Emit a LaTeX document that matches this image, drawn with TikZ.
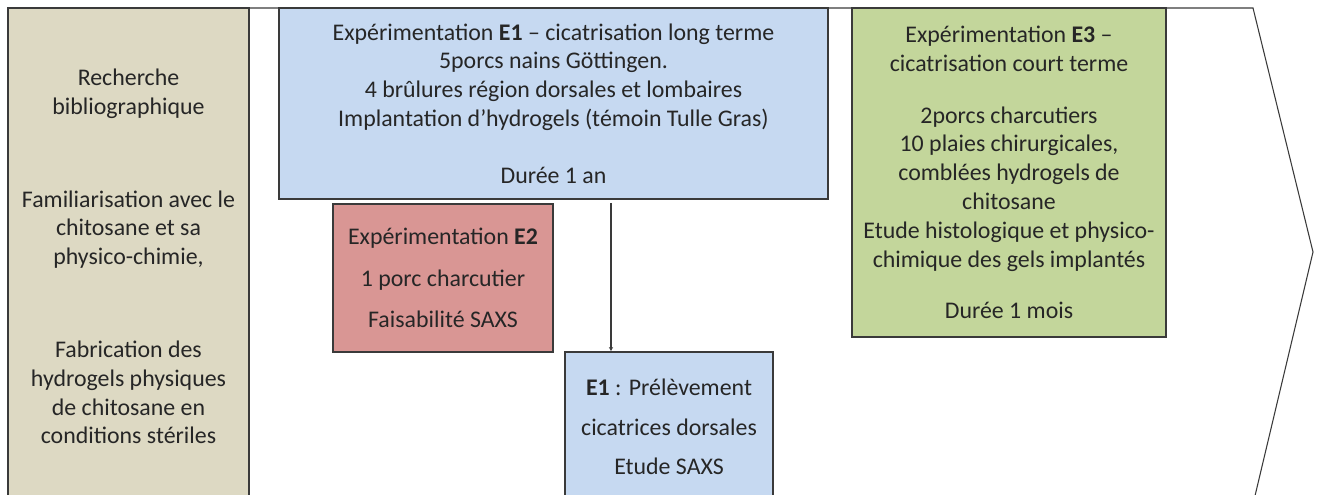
\documentclass[tikz,border=0pt]{standalone}
\usepackage{fontspec}
\setmainfont{Carlito}
\usepackage{xcolor}
\usetikzlibrary{arrows.meta,positioning,calc}
\definecolor{beige}{HTML}{DDD9C3}
\definecolor{ciel}{HTML}{C6D9F1}
\definecolor{rose}{HTML}{D99694}
\definecolor{vert}{HTML}{C3D69B}
\definecolor{trait}{HTML}{3A3A3A}
\tikzset{bx/.style={draw=trait,line width=1.1pt,align=center,inner sep=2pt,text=black!85},
 bib/.style={bx,fill=beige,minimum width=180.75pt,minimum height=372.75pt},
 ea/.style={bx,fill=ciel},
 eb/.style={bx,fill=rose,minimum width=165pt,minimum height=111pt},
 ec/.style={bx,fill=vert,minimum width=235.5pt,minimum height=246.75pt},
 outline/.style={draw=trait,line width=.8pt},
 flow/.style={-{Latex[length=3pt,width=3.5pt]},draw=trait,line width=1.1pt}}

\begin{document}
\begin{tikzpicture}[x=.75pt,y=-.75pt,font=\fontsize{17.9}{21.6}\selectfont]
\useasboundingbox (0,0) rectangle (1317,495);
\draw[outline](8,8)--(1253,8)--(1313,252)--(1254,500);
\node[bib](bib) at (128.5,256.5){Recherche\\bibliographique\\[48pt]
 Familiarisation avec le\\chitosane et sa\\physico-chimie,\\[48pt]
 Fabrication des\\hydrogels physiques\\de chitosane en\\conditions stériles};
\node[ea,minimum width=411.75pt,minimum height=143.25pt](e1) at (553.5,103.5){Expérimentation \textbf{E1} – cicatrisation long terme\\
 5porcs nains Göttingen.\\4 brûlures région dorsales et lombaires\\
 Implantation d’hydrogels (témoin Tulle Gras)\\[21pt]Durée 1 an};
\node[eb](e2) at (443,278){Expérimentation \textbf{E2}\\[9.5pt]1 porc charcutier\\[9.5pt]Faisabilité SAXS};
\node[ea,minimum width=156pt,minimum height=112.5pt](prl) at (669,427){\textbf{E1} : Prélèvement\\[8pt]
 cicatrices dorsales\\[8pt]Etude SAXS};
\node[ec](e3) at (1009,172.5){Expérimentation \textbf{E3} –\\cicatrisation court terme\\[17pt]
 2porcs charcutiers\\10 plaies chirurgicales,\\comblées hydrogels de\\chitosane\\
 Etude histologique et physico-\\chimique des gels implantés\\[17pt]Durée 1 mois};
\coordinate(tap) at (611,203);
\draw[flow](tap)--(tap|-prl.north);
\end{tikzpicture}
\end{document}
